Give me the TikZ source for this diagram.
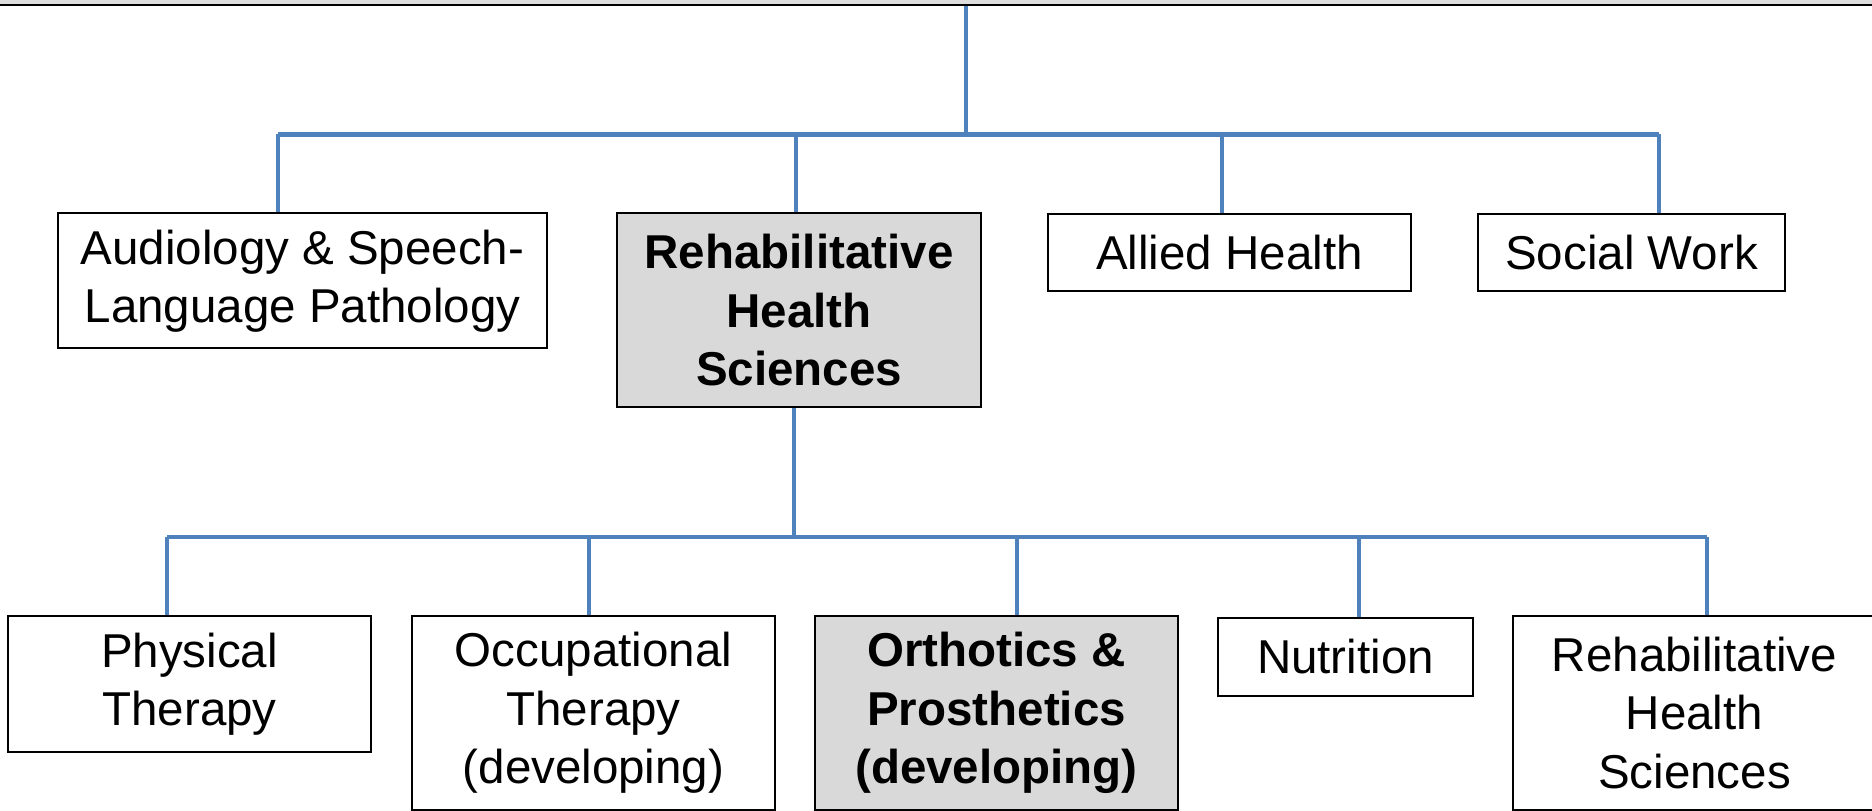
\documentclass[tikz,border=0pt]{standalone}
\usepackage{fontspec}
\setmainfont{Liberation Sans}
\usetikzlibrary{positioning}

\definecolor{linkblue}{RGB}{79,129,189}
\definecolor{boxgray}{RGB}{217,217,217}
\definecolor{bandgray}{RGB}{221,221,221}

\tikzset{
  link/.style={draw=linkblue, line width=1.8pt},
  unit/.style={draw=black, line width=0.8pt, fill=white, inner sep=0pt, align=center,
    font=\fontsize{19}{23.4}\selectfont},
  lead/.style={unit, fill=boxgray, font=\fontsize{19}{23.4}\selectfont\bfseries},
}

\begin{document}
\begin{tikzpicture}[x=0.4pt,y=0.4pt,yscale=-1,xscale=1]
	\useasboundingbox (0,0) rectangle (1872,811); %diagram is 1872 wide and 811 high

	%Shape: Rectangle (top band)
	\fill[bandgray] (0,0) rectangle (1872,4);
	%Straight Lines (top rule)
	\draw[line width=0.8pt] (0,5) -- (1872,5);

	%Shape: Rectangle
	\node[unit, minimum width=195.2pt, minimum height=54pt] (aud) at (302.5,281) {Audiology \& Speech-\\Language Pathology};
	%Shape: Rectangle
	\node[lead, minimum width=145.6pt, minimum height=77.6pt] (rhs) at (799,310.5) {Rehabilitative\\Health\\Sciences};
	%Shape: Rectangle
	\node[unit, minimum width=145.2pt, minimum height=30.8pt] (allied) at (1229.5,252.5) {Allied Health};
	%Shape: Rectangle
	\node[unit, minimum width=122.8pt, minimum height=30.8pt] (social) at (1631.5,252.5) {Social Work};

	%Shape: Rectangle
	\node[unit, minimum width=145.2pt, minimum height=54.4pt] (pt) at (189.5,684) {Physical\\Therapy};
	%Shape: Rectangle
	\node[unit, minimum width=145.2pt, minimum height=77.6pt] (ot) at (593.5,713) {Occupational\\Therapy\\(developing)};
	%Shape: Rectangle
	\node[lead, minimum width=145.2pt, minimum height=77.6pt] (op) at (996.5,713) {Orthotics \&\\Prosthetics\\(developing)};
	%Shape: Rectangle
	\node[unit, minimum width=102pt, minimum height=31.2pt] (nut) at (1345.5,656.5) {Nutrition};
	%Shape: Rectangle
	\node[unit, minimum width=145.2pt, minimum height=77.6pt] (rhs2) at (1694.5,713) {Rehabilitative\\Health\\Sciences};

	%upper bar
	\coordinate (root) at (966,6);
	\coordinate (hub1) at (966,134.5);
	\coordinate (d1) at (278,134.5);
	\coordinate (d2) at (796,134.5);
	\coordinate (d3) at (1222,134.5);
	\coordinate (d4) at (1659,134.5);
	%Straight Lines
	\draw[link] (root) -- (hub1);
	%Straight Lines
	\draw[link] (d1) -- (d4);
	%Straight Lines
	\draw[link] (d1) -- (d1 |- aud.north);
	%Straight Lines
	\draw[link] (d2) -- (d2 |- rhs.north);
	%Straight Lines
	\draw[link] (d3) -- (d3 |- allied.north);
	%Straight Lines
	\draw[link] (d4) -- (d4 |- social.north);

	%lower bar
	\coordinate (hub2) at (794,537);
	\coordinate (e1) at (167,537);
	\coordinate (e2) at (589,537);
	\coordinate (e3) at (1017,537);
	\coordinate (e4) at (1359,537);
	\coordinate (e5) at (1707,537);
	%Straight Lines
	\draw[link] (hub2 |- rhs.south) -- (hub2);
	%Straight Lines
	\draw[link] (e1) -- (e5);
	%Straight Lines
	\draw[link] (e1) -- (e1 |- pt.north);
	%Straight Lines
	\draw[link] (e2) -- (e2 |- ot.north);
	%Straight Lines
	\draw[link] (e3) -- (e3 |- op.north);
	%Straight Lines
	\draw[link] (e4) -- (e4 |- nut.north);
	%Straight Lines
	\draw[link] (e5) -- (e5 |- rhs2.north);
\end{tikzpicture}
\end{document}
